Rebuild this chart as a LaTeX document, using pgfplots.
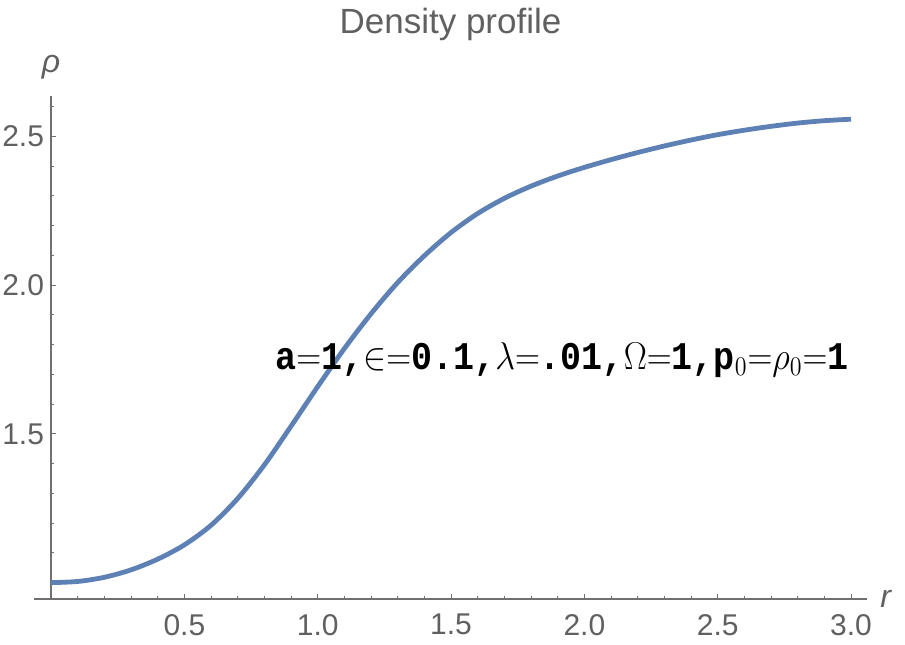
\documentclass[border=0pt]{standalone}
\usepackage{fontspec}
\setmainfont{Liberation Sans}
\setmonofont{Liberation Mono}
\usepackage{pgfplots}
\pgfplotsset{compat=1.18}
\definecolor{mmablue}{HTML}{5E81B5}
\definecolor{labelgray}{HTML}{606060}
\definecolor{axisgray}{HTML}{707070}

% density, step 0.1 in r
\pgfplotstableread{
r    rho
0.0  1.000
0.1  1.004
0.2  1.018
0.3  1.043
0.4  1.079
0.5  1.127
0.6  1.193
0.7  1.283
0.8  1.396
0.9  1.526
1.0  1.659
1.1  1.787
1.2  1.904
1.3  2.009
1.4  2.099
1.5  2.177
1.6  2.241
1.7  2.292
1.8  2.333
1.9  2.367
2.0  2.396
2.1  2.422
2.2  2.446
2.3  2.468
2.4  2.488
2.5  2.506
2.6  2.521
2.7  2.534
2.8  2.545
2.9  2.553
3.0  2.558
}\densitytable

\begin{document}
\begin{tikzpicture}
\useasboundingbox (-17pt,-22.85pt) rectangle (435.5pt,299.5pt);
\begin{axis}[
    at={(0,0)}, anchor=south west,
    scale only axis,
    width=416.5pt, height=251.5pt,
    xmin=-0.064, xmax=3.06,
    ymin=0.945, ymax=2.636,
    axis x line=bottom, axis y line=middle,
    axis line style={-, draw=axisgray, line width=0.6pt},
    tick align=inside,
    major tick length=2.6pt, minor tick length=1.4pt,
    every tick/.style={draw=axisgray, line width=0.5pt},
    xtick={0.5,1.0,...,3.0},
    minor xtick={0.1,0.2,...,3.01},
    ytick={1.5,2.0,2.5},
    minor ytick={1.0,1.1,...,2.61},
    /pgf/number format/assume math mode=true,
    /pgf/number format/.cd, fixed, fixed zerofill, precision=1, /pgfplots/.cd,
    tick label style={font=\fontsize{15}{18}\selectfont, text=labelgray},
    xticklabel style={yshift=-4pt},
    title={Density profile},
    title style={at={(0.5,1)}, anchor=base, yshift=25.5pt,
        font=\fontsize{17.5}{21}\selectfont, text=labelgray},
    xlabel={\textit{r}},
    every axis x label/.style={at={(axis description cs:1,0)}, anchor=west,
        inner sep=0pt, xshift=6.5pt, font=\fontsize{16}{19}\selectfont, text=labelgray},
    ylabel={\textit{ρ}},
    every axis y label/.style={at={(axis description cs:0.0205,1)}, anchor=south,
        inner sep=0pt, yshift=8pt, font=\fontsize{16}{19}\selectfont, text=labelgray},
]
\addplot[draw=mmablue, line width=2.4pt, smooth] table[x=r, y=rho] {\densitytable};
\node[anchor=base west, inner sep=0pt, font=\fontsize{17.5}{20}\selectfont\ttfamily\bfseries]
    at (axis cs:0.84,1.716)
    {\scalebox{1}[1.12]{a$=$1,$\in$$=$0.1,$\lambda$$=$.01,$\Omega$$=$1,p$_0$$=$$\rho_0$$=$1}};
\end{axis}
\end{tikzpicture}
\end{document}
